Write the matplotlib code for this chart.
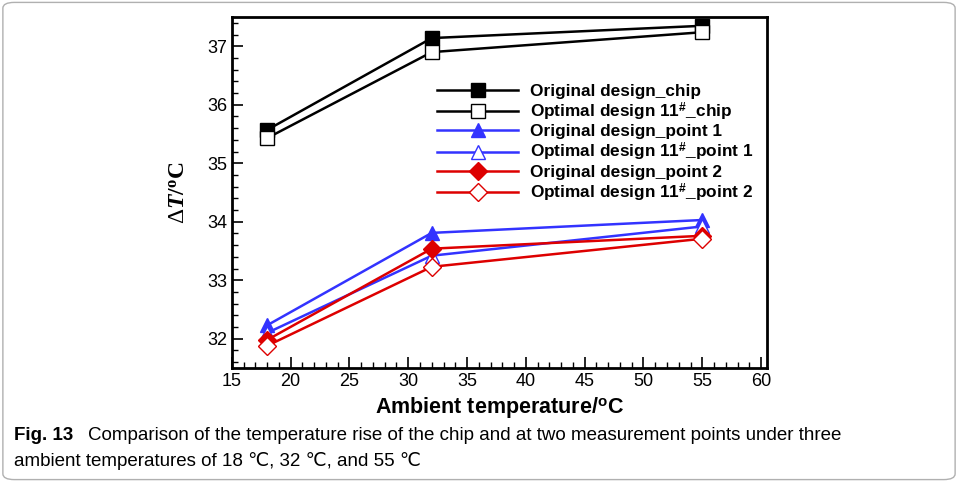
import matplotlib
matplotlib.use("Agg")
import matplotlib.pyplot as plt
from matplotlib.patches import FancyBboxPatch
from matplotlib.ticker import MultipleLocator

plt.rcParams["font.family"] = ["Liberation Sans", "DejaVu Sans"]
plt.rcParams["mathtext.fontset"] = "custom"
plt.rcParams["mathtext.rm"] = "Liberation Serif"
plt.rcParams["mathtext.bf"] = "Liberation Serif:bold"
plt.rcParams["mathtext.it"] = "Liberation Serif:bold:italic"
plt.rcParams["mathtext.sf"] = "Liberation Sans:bold"

ambient = [18, 32, 55]
orig_chip = [35.57, 37.14, 37.35]
opt_chip = [35.43, 36.90, 37.24]
orig_p1 = [32.23, 33.81, 34.03]
opt_p1 = [32.10, 33.42, 33.92]
orig_p2 = [31.98, 33.54, 33.76]
opt_p2 = [31.88, 33.23, 33.71]

series = [
    ("Original design_chip", orig_chip, "black", "s", True),
    (r"Optimal design 11$^{\mathsf{\#}}$_chip", opt_chip, "black", "s", False),
    ("Original design_point 1", orig_p1, "#3333ff", "^", True),
    (r"Optimal design 11$^{\mathsf{\#}}$_point 1", opt_p1, "#3333ff", "^", False),
    ("Original design_point 2", orig_p2, "#dd0000", "D", True),
    (r"Optimal design 11$^{\mathsf{\#}}$_point 2", opt_p2, "#dd0000", "D", False),
]

fig = plt.figure(figsize=(9.58, 4.82), dpi=100)
ax = fig.add_axes([0.242, 0.2365, 0.5586, 0.7282])

for label, vals, col, mk, filled in series:
    ms = 9.5 if mk == "D" else 10.5
    ax.plot(ambient, vals, color=col, lw=1.8, marker=mk, markersize=ms,
            markerfacecolor=col if filled else "white", markeredgecolor=col,
            markeredgewidth=1.0, label=label)

ax.set_xlim(15, 60.5)
ax.set_ylim(31.5, 37.5)
ax.xaxis.set_major_locator(MultipleLocator(5))
ax.xaxis.set_minor_locator(MultipleLocator(1))
ax.yaxis.set_major_locator(MultipleLocator(1))
ax.yaxis.set_minor_locator(MultipleLocator(0.2))
ax.tick_params(which="both", direction="in", top=False, right=False, labelsize=13)
ax.tick_params(which="major", length=8, width=1.2)
ax.tick_params(which="minor", length=4, width=1.0)
for sp in ax.spines.values():
    sp.set_linewidth(2)

ax.set_xlabel(r"Ambient temperature/$^{\mathsf{o}}$C", fontsize=15.5, fontweight="bold", labelpad=4)
ax.set_ylabel(r"$\Delta\mathit{T}\mathbf{/^{o}C}$", fontsize=17, labelpad=12)

leg = ax.legend(loc="upper left", bbox_to_anchor=(0.368, 0.835), frameon=False,
                prop={"weight": "bold", "size": 12.4}, handlelength=4.7,
                labelspacing=0.1, borderpad=0, handletextpad=0.7)

# caption and rounded frame
fig.patches.append(FancyBboxPatch((0.003, 0.005), 0.994, 0.99,
                                  boxstyle="round,pad=0,rounding_size=0.012",
                                  transform=fig.transFigure, fill=False,
                                  edgecolor="#b0b0b0", lw=1.0))
cap_family = ["Liberation Sans", "DejaVu Sans"]
fig.text(0.0146, 0.087, "Fig. 13", fontsize=13.5, fontweight="bold", family=cap_family)
fig.text(0.092, 0.087, "Comparison of the temperature rise of the chip and at two measurement points under three",
         fontsize=13.5, family=cap_family)
fig.text(0.0146, 0.033, "ambient temperatures of 18 \u2103, 32 \u2103, and 55 \u2103",
         fontsize=13.5, family=cap_family)

fig.savefig("out.png", dpi=100)
